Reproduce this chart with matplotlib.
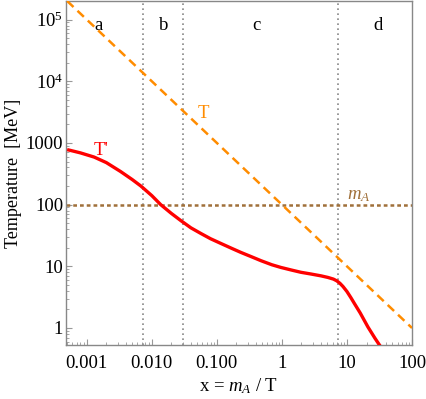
import matplotlib
matplotlib.use("Agg")
import matplotlib.pyplot as plt
import numpy as np
from matplotlib import font_manager
from matplotlib.ticker import FixedLocator, LogLocator, NullFormatter

serif_name = 'DejaVu Serif'
for f in font_manager.findSystemFonts():
    low = f.lower()
    if 'liberationserif-regular' in low:
        font_manager.fontManager.addfont(f)
        serif_name = font_manager.FontProperties(fname=f).get_name()
    if 'liberationserif-italic' in low:
        font_manager.fontManager.addfont(f)

plt.rcParams['font.family'] = [serif_name, 'DejaVu Serif']
plt.rcParams['mathtext.fontset'] = 'custom'
plt.rcParams['mathtext.rm'] = serif_name
plt.rcParams['mathtext.it'] = serif_name + ':italic'

# Data
m_A = 100.0  # MeV
x_T = [0.0005, 100.0]
T_vals = [m_A / v for v in x_T]

x_Tp = [0.0005, 0.0008, 0.0013, 0.002, 0.0033, 0.005, 0.0068, 0.01, 0.0137,
        0.02, 0.028, 0.04, 0.057, 0.08, 0.115, 0.17, 0.234, 0.34, 0.48, 0.7,
        0.96, 1.4, 1.96, 2.8, 4.0, 5.1, 6.2, 7.0, 7.8, 8.7, 10.0, 11.5, 13.0,
        16.0, 21.0, 27.0, 32.0, 36.0]
y_Tp = [780, 690, 590, 480, 345, 255, 200, 140, 100,
        72, 55, 42, 34, 28, 23.5, 19.5, 16.8, 14.3, 12.3, 10.6,
        9.6, 8.7, 8.0, 7.5, 7.0, 6.6, 6.2, 5.8, 5.3, 4.7, 3.9, 3.1, 2.5,
        1.75, 1.04, 0.68, 0.52, 0.43]

region_bounds = [0.0072, 0.03, 7.3]
region_labels = ['a', 'b', 'c', 'd']
region_label_x = [0.0015, 0.0153, 0.40, 30.0]

xticks = [0.001, 0.01, 0.1, 1, 10, 100]
xticklabels = ['0.001', '0.010', '0.100', '1', '10', '100']
yticks = [1, 10, 100, 1000, 1e4, 1e5]
yticklabels = ['1', '10', '100', '1000', r'$10^4$', r'$10^5$']

fig = plt.figure(figsize=(4.26, 3.99), dpi=100)
ax = fig.add_axes([66/426, 1-345/399, (412-66)/426, 344/399])
ax.set_xscale('log')
ax.set_yscale('log')
ax.set_xlim(0.00048, 100)
ax.set_ylim(0.53, 2.0e5)

orange = '#FF8C00'
brown = '#A0703A'
red = '#FF0000'

for b in region_bounds:
    ax.axvline(b, color='#888888', lw=1.2, ls=(0, (1, 2)), zorder=1)

ax.axhline(m_A, color=brown, lw=1.8, ls=(0, (1.5, 1.2)), zorder=2)
ax.plot(x_T, T_vals, color=orange, lw=1.8, ls=(0, (3.5, 2.2)), zorder=3)
ax.plot(x_Tp, y_Tp, color=red, lw=2.4, zorder=4, solid_capstyle='butt',
        solid_joinstyle='round')

fs = 13.5
for lab, xl in zip(region_labels, region_label_x):
    ax.text(xl, 8e4, lab, ha='center', va='center', fontsize=fs)
ax.text(0.061, 2950, 'T', color=orange, ha='center', va='center', fontsize=fs)
ax.text(0.00166, 745, "T'", color=red, ha='center', va='center', fontsize=fs)
ax.text(15.3, 139, r'$m_A$', color=brown, ha='center', va='center', fontsize=fs)

ax.xaxis.set_major_locator(FixedLocator(xticks))
ax.set_xticklabels(xticklabels)
ax.yaxis.set_major_locator(FixedLocator(yticks))
ax.set_yticklabels(yticklabels)
ax.xaxis.set_minor_locator(LogLocator(base=10, subs=np.arange(2, 10), numticks=20))
ax.yaxis.set_minor_locator(LogLocator(base=10, subs=np.arange(2, 10), numticks=20))
ax.xaxis.set_minor_formatter(NullFormatter())
ax.yaxis.set_minor_formatter(NullFormatter())

ax.tick_params(which='both', direction='in', color='#999999', labelsize=fs)
ax.tick_params(which='major', length=4, width=0.8)
ax.tick_params(which='minor', length=2, width=0.6)
ax.tick_params(axis='x', pad=7)
ax.tick_params(axis='y', pad=2)
for s in ax.spines.values():
    s.set_color('#888888')
    s.set_linewidth(1.0)

ax.set_xlabel(r'x = $m_A$ / T', fontsize=fs, labelpad=3)
ax.set_ylabel('Temperature  [MeV]', fontsize=13, labelpad=3)

fig.savefig('out.png', dpi=100)
